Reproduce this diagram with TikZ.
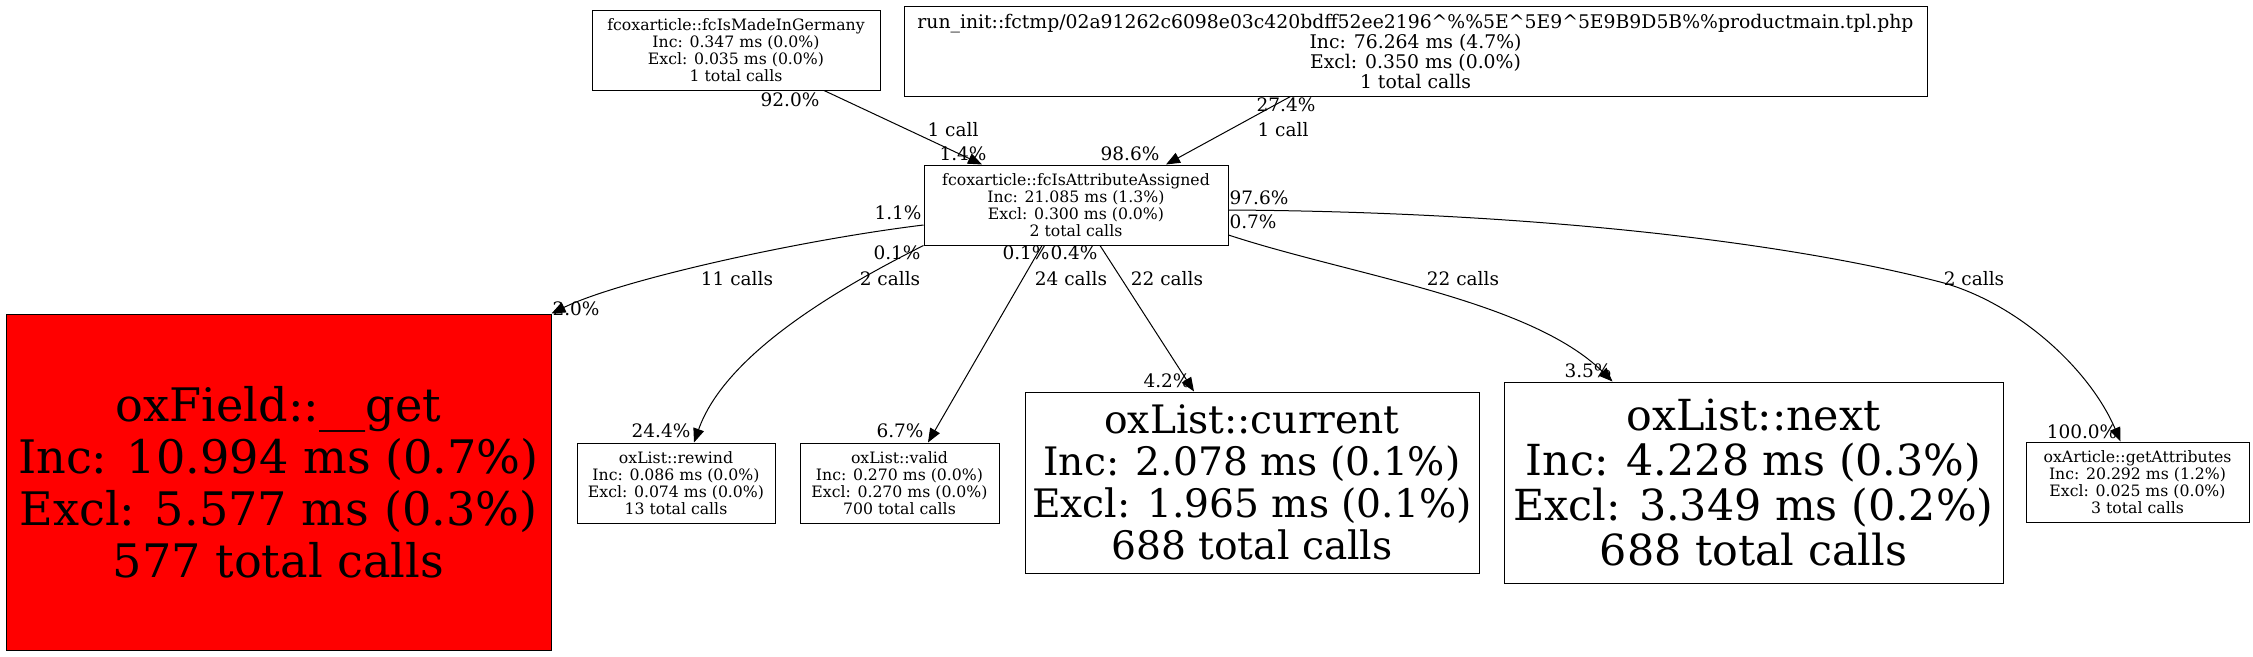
\documentclass[tikz,border=0pt]{standalone}
\usepackage{fontspec}
\setmainfont{DejaVu Serif}
\usetikzlibrary{arrows.meta}
\tikzset{
  fn/.style={draw=black, line width=1pt, inner sep=0pt, align=center, rectangle},
  small/.style={font=\fontsize{15.7}{17}\selectfont},
  lbl/.style={inner sep=0pt, font=\fontsize{18.5}{20}\selectfont},
  edge/.style={line width=1pt, -{Triangle[length=14pt,width=11pt]}}
}
\begin{document}
\begin{tikzpicture}[x=1pt,y=-1pt]
\useasboundingbox (0,0) rectangle (2253,656);
% nodes
\node[fn, small, minimum width=288pt, minimum height=80pt] (mig) at (736,50)
  {fcoxarticle::fcIsMadeInGermany\\Inc: 0.347 ms (0.0\%)\\Excl: 0.035 ms (0.0\%)\\1 total calls};
\node[fn, font=\fontsize{18.8}{20}\selectfont, minimum width=1023pt, minimum height=90pt] (run) at (1415.5,51)
  {run\_init::fctmp/02a91262c6098e03c420bdff52ee2196\textasciicircum\%\%5E\textasciicircum 5E9\textasciicircum 5E9B9D5B\%\%productmain.tpl.php\\Inc: 76.264 ms (4.7\%)\\Excl: 0.350 ms (0.0\%)\\1 total calls};
\node[fn, small, minimum width=304pt, minimum height=80pt] (att) at (1076,205)
  {fcoxarticle::fcIsAttributeAssigned\\Inc: 21.085 ms (1.3\%)\\Excl: 0.300 ms (0.0\%)\\2 total calls};
\node[fn, fill=red, font=\fontsize{46.2}{52}\selectfont, minimum width=545pt, minimum height=336pt] (red) at (278.5,482)
  {oxField::\_\_get\\Inc: 10.994 ms (0.7\%)\\Excl: 5.577 ms (0.3\%)\\577 total calls};
\node[fn, small, minimum width=198pt, minimum height=80pt] (rew) at (676,483)
  {oxList::rewind\\Inc: 0.086 ms (0.0\%)\\Excl: 0.074 ms (0.0\%)\\13 total calls};
\node[fn, small, minimum width=199pt, minimum height=80pt] (val) at (899.5,483)
  {oxList::valid\\Inc: 0.270 ms (0.0\%)\\Excl: 0.270 ms (0.0\%)\\700 total calls};
\node[fn, font=\fontsize{39.2}{42}\selectfont, minimum width=454pt, minimum height=181pt] (cur) at (1252,482.5)
  {oxList::current\\Inc: 2.078 ms (0.1\%)\\Excl: 1.965 ms (0.1\%)\\688 total calls};
\node[fn, font=\fontsize{42.8}{45}\selectfont, minimum width=499pt, minimum height=201pt] (nxt) at (1753.5,482.5)
  {oxList::next\\Inc: 4.228 ms (0.3\%)\\Excl: 3.349 ms (0.2\%)\\688 total calls};
\node[fn, small, minimum width=223pt, minimum height=80pt] (ga) at (2137.5,482)
  {oxArticle::getAttributes\\Inc: 20.292 ms (1.2\%)\\Excl: 0.025 ms (0.0\%)\\3 total calls};
% edges
\draw[edge] ([xshift=88pt]mig.south) -- ([xshift=-94pt]att.north);
\draw[edge] ([xshift=-125pt]run.south) -- ([xshift=90pt]att.north);
\draw[edge] ([yshift=-20pt]att.west) .. controls (800,240) and (620,280) .. (red.north east);
\draw[edge] (att.south west) .. controls (835,290) and (725,355) .. ([xshift=18pt]rew.north);
\draw[edge] ([xshift=-34pt]att.south) -- ([xshift=28.5pt]val.north);
\draw[edge] ([xshift=24pt]att.south) -- ([xshift=-58pt]cur.north);
\draw[edge] ([yshift=-30pt]att.east) .. controls (1350,275) and (1530,300) .. ([xshift=-141pt]nxt.north);
\draw[edge] ([yshift=-5pt]att.east) .. controls (1550,212) and (1800,245) .. (1944,283)
  .. controls (2020,305) and (2090,370) .. ([xshift=-17pt]ga.north);
% labels
\node[lbl] (l1) at (790,100) {92.0\%};
\node[lbl] (l2) at (953,130) {1 call};
\node[lbl] (l3) at (963,154) {1.4\%};
\node[lbl] (l4) at (1286,105) {27.4\%};
\node[lbl] (l5) at (1283,130) {1 call};
\node[lbl] (l6) at (1130,154) {98.6\%};
\node[lbl] (l7) at (898,213) {1.1\%};
\node[lbl] (l8) at (737,279) {11 calls};
\node[lbl] (l9) at (576,309) {2.0\%};
\node[lbl] (l10) at (897,253) {0.1\%};
\node[lbl] (l11) at (890,279) {2 calls};
\node[lbl] (l12) at (661,431) {24.4\%};
\node[lbl] (l13) at (1026,253) {0.1\%};
\node[lbl] (l16) at (1074,253) {0.4\%};
\node[lbl] (l14) at (1071,279) {24 calls};
\node[lbl] (l15) at (900,431) {6.7\%};
\node[lbl] (l17) at (1167,279) {22 calls};
\node[lbl] (l18) at (1167,381) {4.2\%};
\node[lbl] (l19) at (1253,222) {0.7\%};
\node[lbl] (l20) at (1463,279) {22 calls};
\node[lbl] (l21) at (1588,371) {3.5\%};
\node[lbl] (l22) at (1259,198) {97.6\%};
\node[lbl] (l23) at (1974,279) {2 calls};
\node[lbl] (l24) at (2082,432) {100.0\%};
\end{tikzpicture}
\end{document}
